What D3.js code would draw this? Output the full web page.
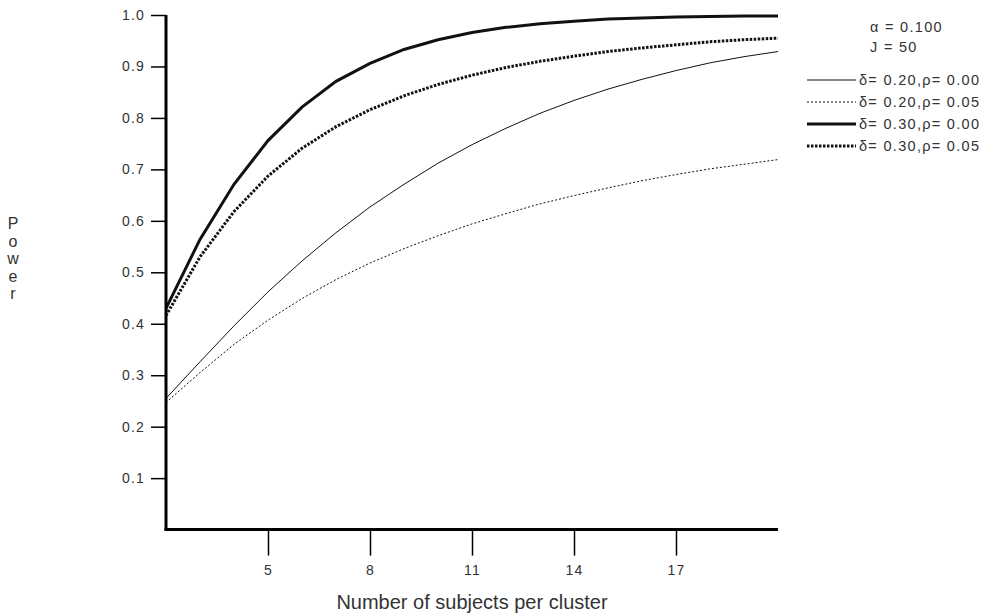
<!DOCTYPE html>
<html>
<head>
<meta charset="utf-8">
<script src="https://cdn.jsdelivr.net/npm/d3@7"></script>
<style>
  body { margin: 0; background: #fff; }
  svg { display: block; font-family: Arial, "Liberation Sans", sans-serif; }
</style>
</head>
<body>
<svg id="chart" width="985" height="616"></svg>
<script>
// cluster size n
const subjects = [2, 3, 4, 5, 6, 7, 8, 9, 10, 11, 12, 13, 14, 15, 16, 17, 18, 19, 20]

// power, one array per curve
const powerD20R00 = [0.255, 0.326, 0.396, 0.462, 0.522, 0.577, 0.627, 0.671, 0.712, 0.748, 0.780, 0.809, 0.834, 0.856, 0.875, 0.892, 0.907, 0.919, 0.929]
const powerD20R05 = [0.247, 0.305, 0.360, 0.407, 0.449, 0.486, 0.518, 0.546, 0.571, 0.594, 0.614, 0.633, 0.649, 0.664, 0.678, 0.690, 0.701, 0.710, 0.719]
const powerD30R00 = [0.430, 0.564, 0.671, 0.756, 0.821, 0.871, 0.906, 0.933, 0.952, 0.966, 0.976, 0.983, 0.988, 0.992, 0.994, 0.996, 0.997, 0.998, 0.998]
const powerD30R05 = [0.416, 0.530, 0.618, 0.687, 0.741, 0.783, 0.816, 0.843, 0.865, 0.883, 0.898, 0.910, 0.920, 0.929, 0.936, 0.942, 0.948, 0.952, 0.955]

const seriesNames = ['δ= 0.20,ρ= 0.00', 'δ= 0.20,ρ= 0.05', 'δ= 0.30,ρ= 0.00', 'δ= 0.30,ρ= 0.05']
const xTicks = [5, 8, 11, 14, 17]
const yTicks = [0.1, 0.2, 0.3, 0.4, 0.5, 0.6, 0.7, 0.8, 0.9, 1.0]
const infoLines = ['α = 0.100', 'J = 50']

const series = [
    { name: seriesNames[0], values: powerD20R00, width: 1, dash: null },
    { name: seriesNames[1], values: powerD20R05, width: 1, dash: '2,2' },
    { name: seriesNames[2], values: powerD30R00, width: 3, dash: null },
    { name: seriesNames[3], values: powerD30R05, width: 3, dash: '2.5,1.5' }
]

const fontFamily = 'Arial, "Liberation Sans", sans-serif'
const textColor = '#333'

const svg = d3.select('#chart')

// 绘图区
const x = d3.scaleLinear().domain([2, 20]).range([166, 778])
const y = d3.scaleLinear().domain([0, 1]).range([529.6, 15])

// 曲线
const line = d3.line()
    .x((d, i) => x(subjects[i]))
    .y((d) => y(d))

svg.append('g')
    .selectAll('path')
    .data(series)
    .enter()
    .append('path')
    .attr('d', (d) => line(d.values))
    .attr('fill', 'none')
    .attr('stroke', '#111')
    .attr('stroke-width', (d) => d.width)
    .attr('stroke-dasharray', (d) => d.dash)

// y轴
const yAxis = svg.append('g')
    .attr('transform', `translate(${x(2)},0)`)
    .call(d3.axisLeft(y).tickValues(yTicks).tickSize(15).tickPadding(6).tickFormat(d3.format('.1f')))
yAxis.select('.domain').attr('stroke-width', 3).attr('d', `M0,${y(1)}V${y(0) + 1}`)
yAxis.selectAll('.tick line').attr('stroke-width', 1.5)
yAxis.selectAll('.tick text')
    .attr('font-size', 14)
    .attr('letter-spacing', 1.2)
    .attr('fill', textColor)
    .attr('font-family', fontFamily)

// x轴
const xAxis = svg.append('g')
    .attr('transform', `translate(0,${y(0)})`)
    .call(d3.axisBottom(x).tickValues(xTicks).tickSize(26).tickPadding(9))
xAxis.select('.domain').attr('stroke-width', 3).attr('d', `M${x(2) - 1.5},0H${x(20)}`)
xAxis.selectAll('.tick line').attr('stroke-width', 1.5)
xAxis.selectAll('.tick text')
    .attr('font-size', 14)
    .attr('letter-spacing', 1.2)
    .attr('fill', textColor)
    .attr('font-family', fontFamily)

// 轴标题
svg.append('text')
    .attr('x', 472)
    .attr('y', 609)
    .attr('text-anchor', 'middle')
    .attr('font-size', 20)
    .attr('fill', textColor)
    .text('Number of subjects per cluster')

svg.append('g')
    .selectAll('text')
    .data('Power'.split(''))
    .enter()
    .append('text')
    .attr('x', 13)
    .attr('y', (d, i) => 229 + i * 17.5)
    .attr('text-anchor', 'middle')
    .attr('font-size', 16)
    .attr('fill', textColor)
    .text((d) => d)

// 图例
svg.append('g')
    .selectAll('text')
    .data(infoLines)
    .enter()
    .append('text')
    .attr('x', 870)
    .attr('y', (d, i) => 32 + i * 20)
    .attr('font-size', 14.5)
    .attr('letter-spacing', 1.3)
    .attr('fill', textColor)
    .text((d) => d)

const legend = svg.append('g')
    .selectAll('g')
    .data(series)
    .enter()
    .append('g')
    .attr('transform', (d, i) => `translate(807,${80 + i * 22})`)

legend.append('line')
    .attr('x1', 0)
    .attr('x2', 49)
    .attr('stroke', '#111')
    .attr('stroke-width', (d) => d.width)
    .attr('stroke-dasharray', (d) => d.dash)

legend.append('text')
    .attr('x', 52)
    .attr('dy', '0.35em')
    .attr('font-size', 14.5)
    .attr('letter-spacing', 1.3)
    .attr('fill', textColor)
    .text((d) => d.name)
</script>
</body>
</html>
